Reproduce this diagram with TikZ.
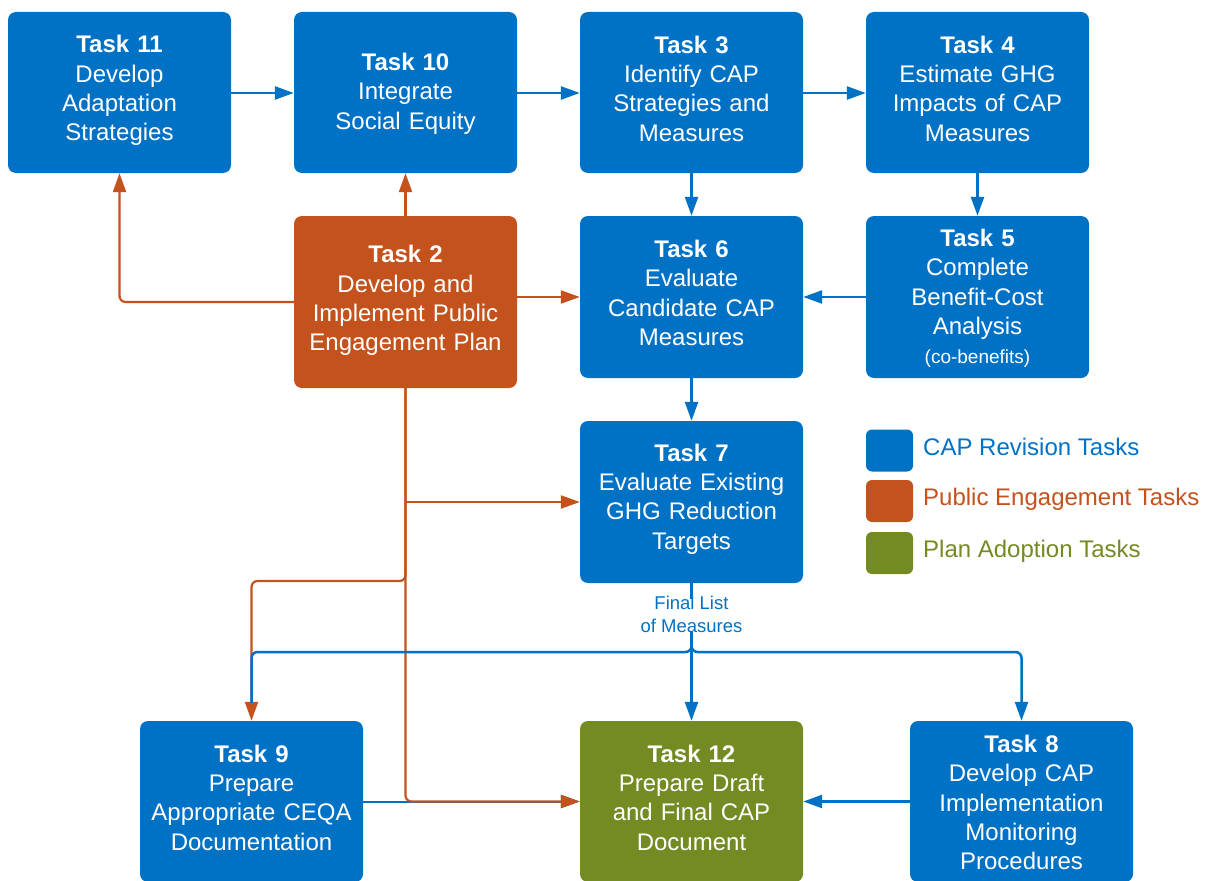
\documentclass[tikz,border=0pt]{standalone}
\usepackage{fontspec}
\setmainfont{Liberation Sans}
\usetikzlibrary{arrows.meta}
\definecolor{cblue}{HTML}{0072C6}
\definecolor{corange}{HTML}{C4521C}
\definecolor{cgreen}{HTML}{738B22}
\begin{document}
\begin{tikzpicture}[x=1pt,y=-1pt,
  task/.style={rounded corners=8pt, minimum width=223pt, minimum height=161pt, inner sep=0pt},
  bluetask/.style={task, fill=cblue},
  orangetask/.style={task, fill=corange},
  greentask/.style={task, fill=cgreen},
  tasktext/.style={text=white, align=center, inner sep=0pt, text width=220pt,
    font=\fontsize{24}{29.3}\selectfont},
  tip/.style={-{Triangle[length=19pt,width=13pt]}},
  bflow/.style={draw=cblue, line width=2.5pt, tip, rounded corners=6pt},
  oflow/.style={draw=corange, line width=2.2pt, tip, rounded corners=6pt},
  legbox/.style={rounded corners=6pt, minimum width=47pt, minimum height=42pt, inner sep=0pt},
  legtext/.style={anchor=west, inner sep=0pt, font=\fontsize{24}{29}\selectfont},
]
\clip (0,0) rectangle (1206,880);
\fill[white] (0,0) rectangle (1206,880);

% task boxes
\node[bluetask] (t11) at (119.5,92.5) {};
\node[bluetask] (t10) at (405.5,92.5) {};
\node[bluetask] (t3) at (691.5,92.5) {};
\node[bluetask] (t4) at (977.5,92.5) {};
\node[orangetask, minimum height=172pt] (t2) at (405.5,302) {};
\node[bluetask, minimum height=162pt] (t6) at (691.5,297) {};
\node[bluetask, minimum height=162pt] (t5) at (977.5,297) {};
\node[bluetask, minimum height=162pt] (t7) at (691.5,502) {};
\node[bluetask] (t9) at (251.5,801.5) {};
\node[greentask] (t12) at (691.5,801.5) {};
\node[bluetask] (t8) at (1021.5,801.5) {};

% task texts
\node[tasktext] (x11) at ([yshift=2pt]t11.center) {\textbf{Task 11}\\Develop\\Adaptation\\Strategies};
\node[tasktext] (x10) at ([yshift=-1pt]t10.center) {\textbf{Task 10}\\Integrate\\Social Equity};
\node[tasktext] (x3) at ([yshift=4pt]t3.center) {\textbf{Task 3}\\Identify CAP\\Strategies and\\Measures};
\node[tasktext] (x4) at ([yshift=4pt]t4.center) {\textbf{Task 4}\\Estimate GHG\\Impacts of CAP\\Measures};
\node[tasktext] (x2) at ([yshift=1.5pt]t2.center) {\textbf{Task 2}\\Develop and\\Implement Public\\Engagement Plan};
\node[tasktext] (x6) at ([yshift=4pt]t6.center) {\textbf{Task 6}\\Evaluate\\Candidate CAP\\Measures};
\node[tasktext] (x5) at ([yshift=-1.5pt]t5.center) {\textbf{Task 5}\\Complete\\Benefit-Cost\\Analysis\\{\fontsize{19}{23}\selectfont (co-benefits)}};
\node[tasktext] (x7) at ([yshift=3pt]t7.center) {\textbf{Task 7}\\Evaluate Existing\\GHG Reduction\\Targets};
\node[tasktext] (x9) at ([yshift=4pt]t9.center) {\textbf{Task 9}\\Prepare\\Appropriate CEQA\\Documentation};
\node[tasktext] (x12) at ([yshift=4pt]t12.center) {\textbf{Task 12}\\Prepare Draft\\and Final CAP\\Document};
\node[tasktext] (x8) at ([yshift=-1pt]t8.center) {\textbf{Task 8}\\Develop CAP\\Implementation\\Monitoring\\Procedures};

% label
\node[text=cblue, align=center, inner sep=0pt, font=\fontsize{18.5}{23.5}\selectfont] (fl) at (691.5,614.5) {Final List\\of Measures};

% legend
\node[legbox, fill=cblue] (l1) at (889.5,450.5) {};
\node[legbox, fill=corange] (l2) at (889.5,501) {};
\node[legbox, fill=cgreen] (l3) at (889.5,553) {};
\node[legtext, text=cblue] (lt1) at (923,447) {CAP Revision Tasks};
\node[legtext, text=corange] (lt2) at (923,499) {Public Engagement Tasks};
\node[legtext, text=cgreen] (lt3) at (923,551) {Plan Adoption Tasks};

% blue flows
\draw[bflow] (t11.east |- 0,93) -- (t10.west |- 0,93);
\draw[bflow] (t10.east |- 0,93) -- (t3.west |- 0,93);
\draw[bflow] (t3.east |- 0,93) -- (t4.west |- 0,93);
\draw[bflow] (t3.south) -- (t6.north);
\draw[bflow] (t4.south) -- (t5.north);
\draw[bflow] (t5.west) -- (t6.east);
\draw[bflow] (t6.south) -- (t7.north);
\draw[draw=cblue, line width=2.5pt] (t7.south) -- ([yshift=-3pt]fl.north);
\coordinate (fj) at (691.5,652);
\draw[bflow] ([yshift=2pt]fl.south) -- (fj) -| (t8.north);
\draw[bflow] ([yshift=2pt]fl.south) -- (t12.north);
\draw[bflow, line width=2pt] (t9.east) -- (t12.west);
\draw[bflow] (t8.west) -- (t12.east);

% orange flows
\draw[oflow] (t2.west) -| (t11.south);
\draw[oflow] (t2.north) -- (t10.south);
\draw[oflow] (t2.east |- t6.west) -- (t6.west);
\draw[oflow] (t2.south) |- (t12.west);
\draw[oflow] (t2.south |- t7.west) -- (t7.west);
\coordinate (j9) at (405.5,581);
\draw[oflow] (t2.south) -- (j9) -| (t9.north);

% blue branch to Task 9, over the orange line, ending under the orange tip
\draw[draw=cblue, line width=2.5pt, rounded corners=6pt, shorten >=18pt] ([yshift=2pt]fl.south) -- (fj) -| (t9.north);
\end{tikzpicture}
\end{document}
